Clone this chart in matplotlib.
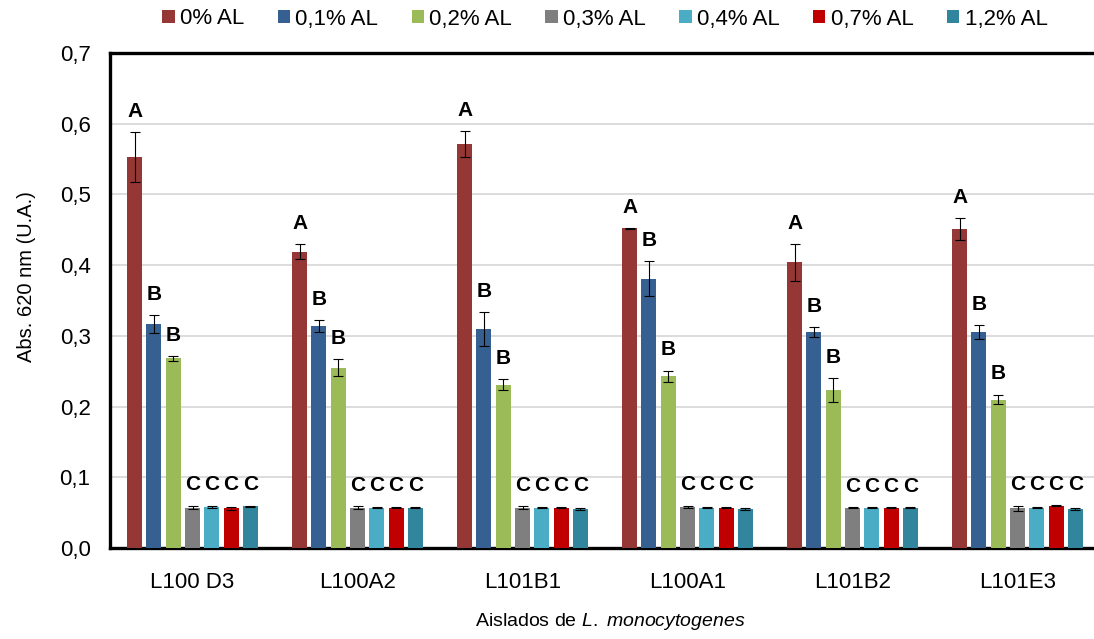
import numpy as np
import matplotlib
matplotlib.use("Agg")
import matplotlib.pyplot as plt

plt.rcParams['font.family'] = ['Liberation Sans', 'DejaVu Sans']
plt.rcParams['mathtext.fontset'] = 'custom'
plt.rcParams['mathtext.rm'] = 'Liberation Sans'
plt.rcParams['mathtext.it'] = 'Liberation Sans:italic'

aislados = ['L100 D3', 'L100A2', 'L101B1', 'L100A1', 'L101B2', 'L101E3']
series = ['0% AL', '0,1% AL', '0,2% AL', '0,3% AL', '0,4% AL', '0,7% AL', '1,2% AL']
colores = ['#953735', '#376092', '#9BBB59', '#7F7F7F', '#4BACC6', '#C00000', '#31859C']

# absorbancia media por concentracion (filas) y aislado (columnas)
abs_0 = [0.553, 0.419, 0.571, 0.452, 0.404, 0.451]
abs_01 = [0.317, 0.314, 0.310, 0.381, 0.305, 0.305]
abs_02 = [0.268, 0.255, 0.231, 0.243, 0.223, 0.210]
abs_03 = [0.057, 0.057, 0.057, 0.058, 0.057, 0.056]
abs_04 = [0.058, 0.057, 0.057, 0.057, 0.057, 0.057]
abs_07 = [0.056, 0.057, 0.057, 0.057, 0.057, 0.060]
abs_12 = [0.059, 0.057, 0.055, 0.055, 0.057, 0.055]

# desviaciones
err_0 = [0.035, 0.011, 0.018, 0.001, 0.026, 0.015]
err_01 = [0.013, 0.008, 0.024, 0.025, 0.007, 0.010]
err_02 = [0.004, 0.012, 0.008, 0.008, 0.017, 0.007]
err_03 = [0.002, 0.002, 0.002, 0.002, 0.001, 0.003]
err_04 = [0.001, 0.001, 0.001, 0.001, 0.001, 0.001]
err_07 = [0.002, 0.001, 0.001, 0.001, 0.001, 0.001]
err_12 = [0.001, 0.001, 0.001, 0.001, 0.001, 0.001]

letras = ['A', 'B', 'B', 'C', 'C', 'C', 'C']

valores = [abs_0, abs_01, abs_02, abs_03, abs_04, abs_07, abs_12]
errores = [err_0, err_01, err_02, err_03, err_04, err_07, err_12]

fig = plt.figure(figsize=(10.94, 6.39), dpi=100)
ax = fig.add_axes([110 / 1094, 1 - 548 / 639, 990 / 1094, (548 - 53) / 639])

x = np.arange(len(aislados))
paso = 0.117
ancho = 0.092

# las letras C de cada aislado van a la misma altura
tope_c = np.max([np.array(v) + np.array(e) for v, e in zip(valores[3:], errores[3:])], axis=0)

for i, (vals, errs) in enumerate(zip(valores, errores)):
    pos = x + (i - 3) * paso
    ax.bar(pos, vals, ancho, color=colores[i], label=series[i], zorder=3)
    ax.errorbar(pos, vals, yerr=errs, fmt='none', ecolor='black',
                elinewidth=0.8, capsize=3.5, capthick=0.8, zorder=4)
    for j, (xp, v, e) in enumerate(zip(pos, vals, errs)):
        y = tope_c[j] if letras[i] == 'C' else v + e
        ax.annotate(letras[i], (xp, y), xytext=(0, 8), textcoords='offset points',
                    ha='center', va='bottom', fontsize=15, fontweight='bold')

ax.set_xlim(-0.5, len(aislados) - 0.5)
ax.set_ylim(0, 0.7)
ticks_y = np.arange(0, 0.71, 0.1)
ax.set_yticks(ticks_y)
ax.set_yticklabels([('%.1f' % t).replace('.', ',') for t in ticks_y])
ax.set_xticks(x)
ax.set_xticklabels(aislados)
ax.tick_params(axis='y', length=0, pad=14, labelsize=16)
ax.tick_params(axis='x', length=0, pad=17, labelsize=16)
ax.yaxis.grid(True, color='#D9D9D9', linewidth=1.3, zorder=0)
ax.set_axisbelow(True)
for lado in ['left', 'top', 'bottom']:
    ax.spines[lado].set_linewidth(2.4)
    ax.spines[lado].set_color('black')
ax.spines['right'].set_visible(False)

fig.text(27 / 1094, 1 - 277 / 639, 'Abs. 620 nm (U.A.)', rotation=90,
         ha='center', va='center', fontsize=14.5)
fig.text(610 / 1094, 1 - 622 / 639, r'Aislados de $\mathit{L.}$ $\mathit{monocytogenes}$',
         ha='center', va='center', fontsize=14)

fig.legend(loc='center', bbox_to_anchor=(605 / 1094, 1 - 19 / 639), ncol=7,
           frameon=False, fontsize=16, handlelength=0.55, handleheight=0.55,
           handletextpad=0.25, columnspacing=1.5)

fig.savefig('out.png', dpi=100)
